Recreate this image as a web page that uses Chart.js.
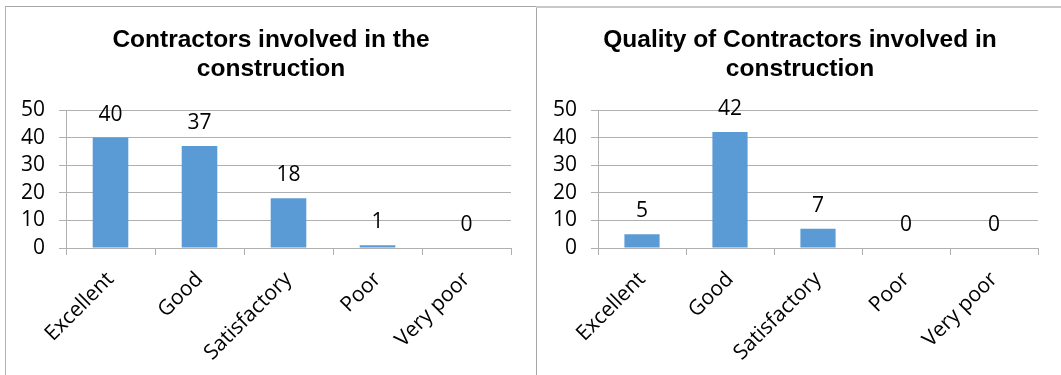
<!DOCTYPE html>
<html>
<head>
<meta charset="utf-8">
<script src="https://cdn.jsdelivr.net/npm/chart.js@4.4.0/dist/chart.umd.min.js"></script>
<style>
  html, body { margin: 0; padding: 0; background: #ffffff; width: 1061px; height: 375px; overflow: hidden; position: relative; }
  .panel { position: absolute; }
  #p1 { left: 0; top: 0; width: 536px; height: 375px; }
  #p2 { left: 537px; top: 0; width: 524px; height: 375px; }
  .frame { position: absolute; box-sizing: border-box; }
  #f1 { left: 5px; top: 6px; width: 532px; height: 400px; border-left: 1px solid #b3b3b3; border-top: 1px solid #a6a6a6; border-right: 1px solid #a6a6a6; }
  #f2 { left: 536px; top: 6px; width: 540px; height: 400px; border-top: 2px solid #c8c8c8; }
</style>
</head>
<body>
<div class="frame" id="f1"></div>
<div class="frame" id="f2"></div>
<div class="panel" id="p1"><canvas id="c1"></canvas></div>
<div class="panel" id="p2"><canvas id="c2"></canvas></div>
<script>
const categories = ["Excellent", "Good", "Satisfactory", "Poor", "Very poor"];
const contractorsValues = [40, 37, 18, 1, 0];
const qualityValues = [5, 42, 7, 0, 0];
const yTicks = [0, 10, 20, 30, 40, 50];
const title1 = ["Contractors involved in the", "construction"];
const title2 = ["Quality of Contractors involved in", "construction"];

const BAR_COLOR = "#5b9bd5";
const GRID_COLOR = "#b0b0b0";
const FONT = "'Open Sans', sans-serif";

const valueLabels = {
  id: "valueLabels",
  afterDatasetsDraw(chart) {
    const ctx = chart.ctx;
    const meta = chart.getDatasetMeta(0);
    const data = chart.data.datasets[0].data;
    ctx.save();
    ctx.font = "21px " + FONT;
    ctx.fillStyle = "#000000";
    ctx.textAlign = "center";
    ctx.textBaseline = "middle";
    meta.data.forEach((bar, i) => {
      ctx.fillText(String(data[i]), bar.x, bar.y - 23);
    });
    ctx.restore();
  }
};

function makeChart(id, values, title, titleLeft, yWidth, padRight) {
  const titleShift = {
    id: "titleShift",
    afterLayout(chart) {
      if (chart.titleBlock) chart.titleBlock.left = titleLeft;
    }
  };
  return new Chart(document.getElementById(id), {
    type: "bar",
    data: {
      labels: categories,
      datasets: [{
        data: values,
        backgroundColor: BAR_COLOR,
        borderWidth: 0,
        barPercentage: 0.4,
        categoryPercentage: 1.0
      }]
    },
    options: {
      responsive: true,
      maintainAspectRatio: false,
      animation: false,
      events: [],
      layout: { padding: { left: 0, right: padRight, top: 0, bottom: 0 } },
      plugins: {
        legend: { display: false },
        tooltip: { enabled: false },
        title: {
          display: true,
          text: title,
          color: "#000000",
          font: { family: "'Liberation Sans', Arial, sans-serif", size: 24.5, weight: "bold", lineHeight: 29 / 24.5 },
          padding: { top: 26, bottom: 26 }
        }
      },
      scales: {
        x: {
          grid: { display: true, drawOnChartArea: false, drawTicks: true, tickLength: 7, color: GRID_COLOR, offset: true },
          border: { display: true, color: GRID_COLOR },
          ticks: {
            color: "#000000",
            font: { family: FONT, size: 21 },
            minRotation: 45, maxRotation: 45,
            padding: 12,
            autoSkip: false
          },
          afterFit(scale) { scale.height = 127; }
        },
        y: {
          min: 0, max: 50,
          afterBuildTicks(scale) { scale.ticks = yTicks.map(v => ({ value: v })); },
          grid: { color: GRID_COLOR, tickLength: 7, drawTicks: true },
          border: { display: true, color: GRID_COLOR },
          ticks: {
            color: "#000000",
            font: { family: FONT, size: 21 },
            padding: 14,
            autoSkip: false
          },
          afterFit(scale) { scale.width = yWidth; }
        }
      }
    },
    plugins: [valueLabels, titleShift]
  });
}

makeChart("c1", contractorsValues, title1, 31, 66, 25);
makeChart("c2", qualityValues, title2, 25, 61, 23);
</script>
</body>
</html>
